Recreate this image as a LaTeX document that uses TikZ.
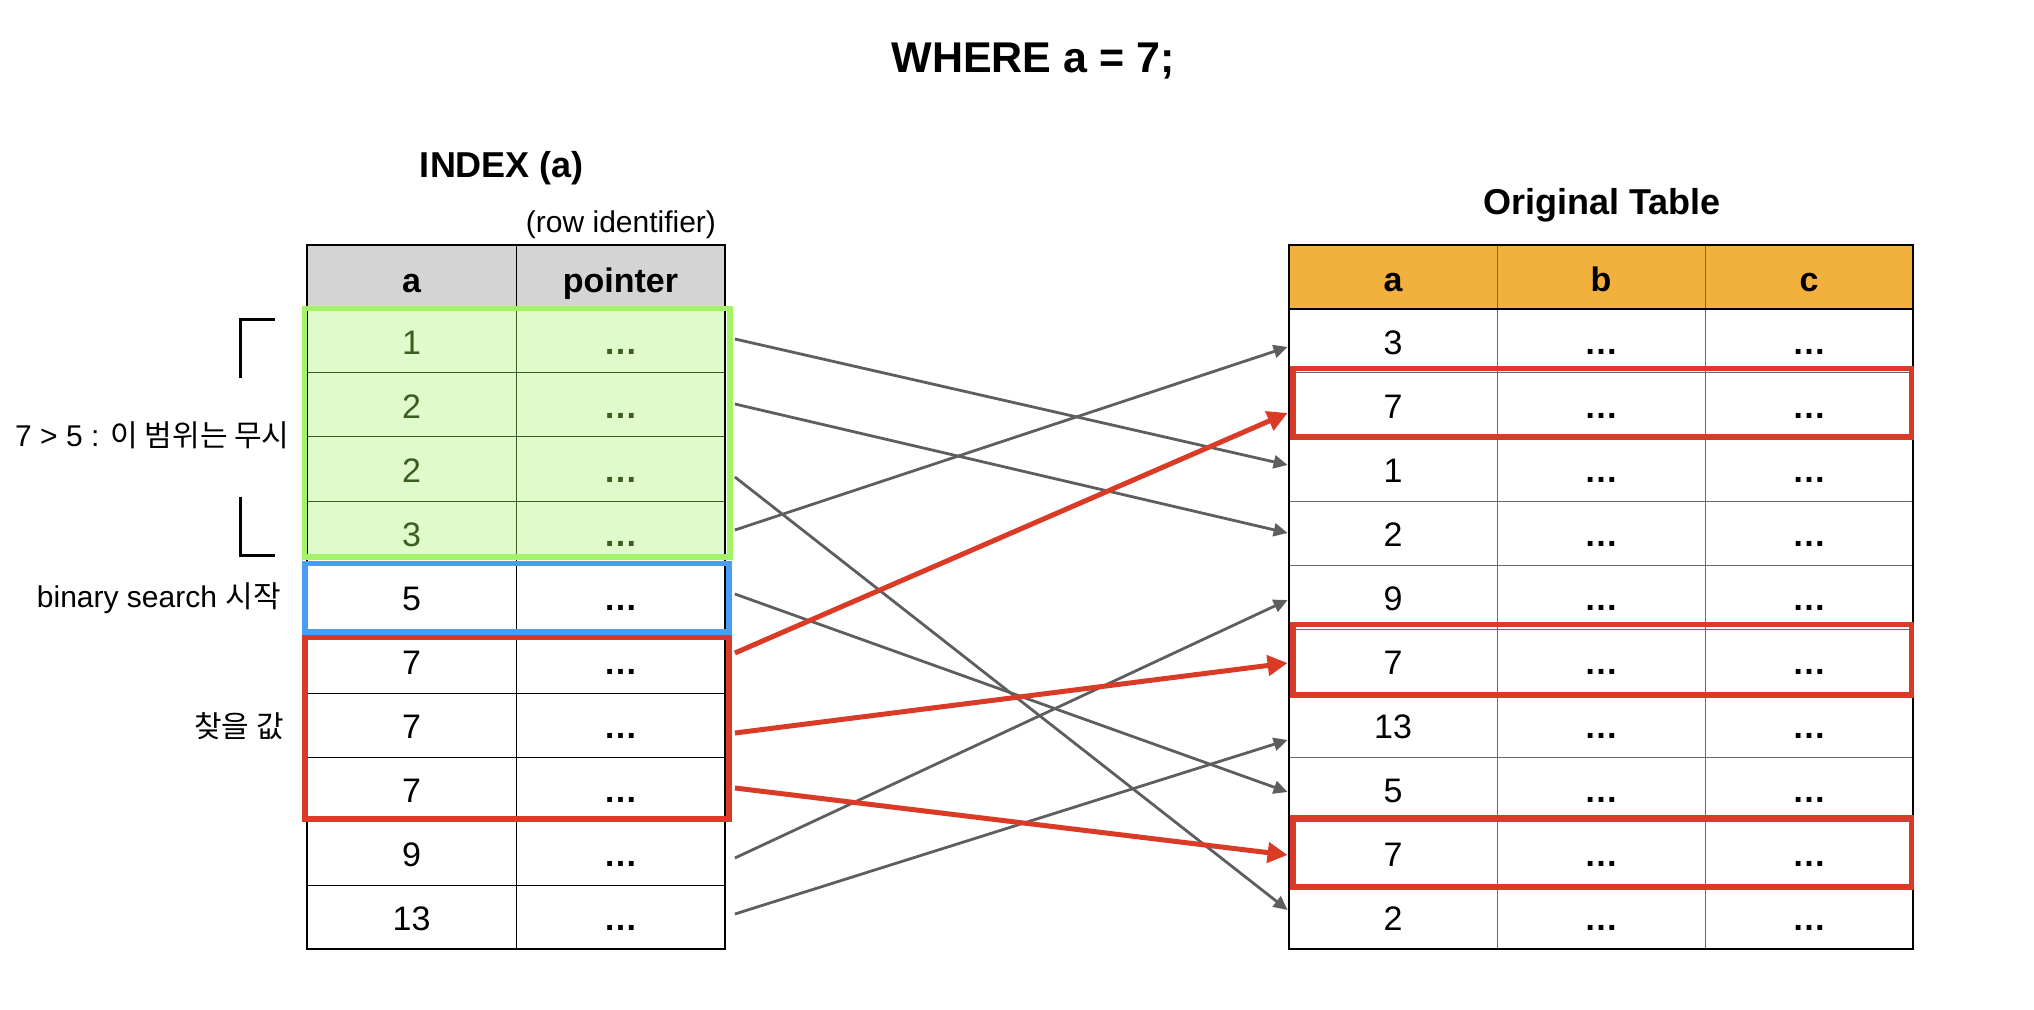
\documentclass[tikz,border=0pt]{standalone}
\usepackage{fontspec}
\setmainfont{Liberation Sans}
\newfontfamily\krfont{Noto Sans CJK KR}
\usetikzlibrary{arrows.meta}
\definecolor{hdrgray}{HTML}{D4D4D4}
\definecolor{hdrorange}{HTML}{F2B13D}
\definecolor{greenfill}{HTML}{DFFACB}
\definecolor{greenline}{HTML}{A3F26A}
\definecolor{greentext}{HTML}{3B5E20}
\definecolor{bluebox}{HTML}{4A9CF5}
\definecolor{redbox}{HTML}{DA3B26}
\definecolor{arrowgray}{HTML}{5E5E5E}
\definecolor{gridgray}{HTML}{5F6B78}
\newcommand{\dotscell}{\textbf{…}}
\begin{document}
\begin{tikzpicture}[x=0.5pt,y=-0.5pt,
  cell/.style={minimum width=104pt, minimum height=32pt, inner sep=0pt,
    text height=13.5pt, text depth=0pt, font=\fontsize{17}{20}\selectfont},
  hcell/.style={cell, text height=16pt, font=\bfseries\fontsize{17}{20}\selectfont},
  lbl/.style={inner sep=0pt, font=\fontsize{15}{18}\selectfont},
  ttl/.style={inner sep=0pt, font=\bfseries\fontsize{18}{22}\selectfont},
  grayarrow/.style={draw=arrowgray, line width=1.4pt, -{Triangle[length=7pt,width=6.5pt]}},
  redarrow/.style={draw=redbox, line width=2.5pt, -{Triangle[length=10pt,width=10pt]}},
  hibox/.style={line width=2.8pt},
  bracket/.style={line width=1.75pt, black}]
\useasboundingbox (0,0) rectangle (2034,1010);

% ---------- titles ----------
\node[inner sep=0pt, anchor=base, font=\bfseries\fontsize{21.5}{26}\selectfont] (title) at (1033,73) {WHERE a = 7;};
\node[ttl, anchor=base] (idxtitle) at (502,178) {INDEX (a)};
\node[lbl, anchor=base] (rowid) at (621,233) {(row identifier)};
\node[ttl, anchor=base] (origtitle) at (1602,215) {Original Table};

% ---------- left table (index) ----------
\fill[hdrgray] (307,245) rectangle (725,309);
\fill[greenfill] (307,309) rectangle (725,557);
\foreach \k in {1,2,3} \draw[greentext, line width=0.5pt] (307,{309+64*\k}) -- (725,{309+64*\k});
\draw[greentext, line width=0.5pt] (516,309) -- (516,557);
\foreach \k in {4,...,9} \draw[black, line width=0.5pt] (307,{309+64*\k}) -- (725,{309+64*\k});
\draw[black, line width=0.5pt] (516,245) -- (516,309);
\draw[black, line width=0.5pt] (516,557) -- (516,949);
\draw[black, line width=0.8pt] (307,245) rectangle (725,949);

\node[hcell] (Lh1) at (411.5,277) {a};
\node[hcell] (Lh2) at (620.5,277) {pointer};
\foreach \v [count=\i] in {1,2,2,3} {
  \node[cell, text=greentext] (La\i) at (411.5,{341+64*(\i-1)}) {\v};
  \node[cell, text=greentext] (Lp\i) at (620.5,{341+64*(\i-1)}) {\dotscell};
}
\foreach \v [count=\j] in {5,7,7,7,9,13} {
  \pgfmathtruncatemacro{\i}{\j+4}
  \node[cell] (La\i) at (411.5,{341+64*(\i-1)}) {\v};
  \node[cell] (Lp\i) at (620.5,{341+64*(\i-1)}) {\dotscell};
}

% ---------- right table (original) ----------
\fill[hdrorange] (1289,245) rectangle (1913,309);
\foreach \k in {1,...,9} \draw[gridgray, line width=0.5pt] (1289,{309+64*\k}) -- (1913,{309+64*\k});
\draw[gridgray, line width=0.5pt] (1497,245) -- (1497,949);
\draw[gridgray, line width=0.5pt] (1705,245) -- (1705,949);
\draw[black, line width=0.6pt] (1289,309) -- (1913,309);
\draw[black, line width=0.8pt] (1289,245) rectangle (1913,949);

\node[hcell, text height=15pt] (Rh1) at (1393,277) {a};
\node[hcell, text height=15pt] (Rh2) at (1601,277) {b};
\node[hcell, text height=15pt] (Rh3) at (1809,277) {c};
\foreach \v [count=\i] in {3,7,1,2,9,7,13,5,7,2} {
  \node[cell] (Ra\i) at (1393,{341+64*(\i-1)}) {\v};
  \node[cell] (Rb\i) at (1601,{341+64*(\i-1)}) {\dotscell};
  \node[cell] (Rc\i) at (1809,{341+64*(\i-1)}) {\dotscell};
}

% ---------- highlight boxes ----------
\draw[hibox, draw=greenline] (304.5,308.7) rectangle (729.7,557);
\draw[hibox, draw=bluebox] (305,563.5) rectangle (729,632);
\draw[hibox, draw=redbox] (305,637.5) rectangle (729,819);
\draw[hibox, draw=redbox] (1293,368.7) rectangle (1911.6,437);
\draw[hibox, draw=redbox] (1293,624.5) rectangle (1911.6,695);
\draw[hibox, draw=redbox] (1293,818) rectangle (1911.6,887);

% ---------- brackets and labels ----------
\draw[bracket] (275,319.5) -- (240.5,319.5) -- (240.5,377.7);
\draw[bracket] (240.5,496.7) -- (240.5,555.5) -- (275,555.5);
\node[lbl, anchor=base east] (lab1) at (290,446) {7 > 5 : {\krfont 이 범위는 무시}};
\node[lbl, anchor=base east] (lab2) at (281,607) {binary search {\krfont 시작}};
\node[lbl, anchor=base east] (lab3) at (284,737) {{\krfont 찾을 값}};

% ---------- pointers ----------
\draw[grayarrow] ([xshift=5pt,yshift=1pt]Lp1.east) -- ([xshift=-0.5pt,yshift=2pt]Ra3.west);
\draw[grayarrow] ([xshift=5pt,yshift=0.5pt]Lp2.east) -- ([xshift=-0.5pt,yshift=0pt]Ra4.west);
\draw[grayarrow] ([xshift=5pt,yshift=-4pt]Lp3.east) -- ([xshift=-0.5pt,yshift=3.5pt]Ra10.west);
\draw[grayarrow] ([xshift=5pt,yshift=1.5pt]Lp4.east) -- ([xshift=-0.5pt,yshift=-3pt]Ra1.west);
\draw[grayarrow] ([xshift=5pt,yshift=1.5pt]Lp5.east) -- ([xshift=-0.5pt,yshift=-1.5pt]Ra8.west);
\draw[grayarrow] ([xshift=5pt,yshift=-2.5pt]Lp9.east) -- ([xshift=-0.5pt,yshift=-1.5pt]Ra5.west);
\draw[grayarrow] ([xshift=5pt,yshift=1.5pt]Lp10.east) -- ([xshift=-0.5pt,yshift=-7.5pt]Ra7.west);
\draw[redarrow] ([xshift=5pt,yshift=4pt]Lp6.east) -- ([xshift=-0.5pt,yshift=-4pt]Ra2.west);
\draw[redarrow] ([xshift=5pt,yshift=-4pt]Lp7.east) -- ([xshift=-0.5pt,yshift=-1pt]Ra6.west);
\draw[redarrow] ([xshift=5pt,yshift=0.5pt]Lp8.east) -- ([xshift=-0.5pt,yshift=-1pt]Ra9.west);
\end{tikzpicture}
\end{document}
